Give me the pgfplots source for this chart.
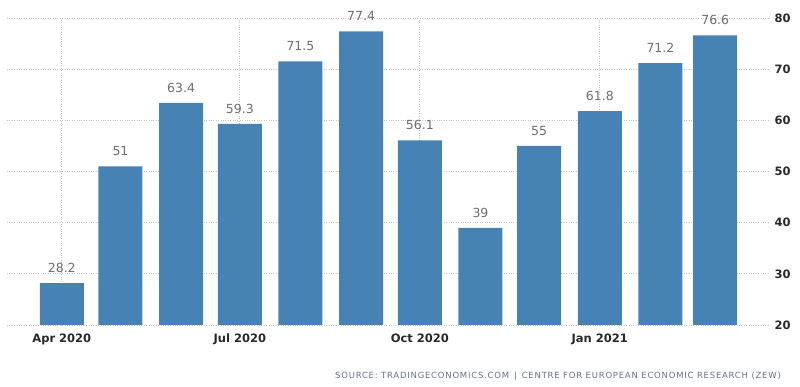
\documentclass[border=0pt]{standalone}
\usepackage{pgfplots}
\pgfplotsset{compat=1.18}
\usepackage{fontspec}
\setmainfont{DejaVu Sans}
\newfontfamily\srcfont[LetterSpace=9]{DejaVu Sans}
\definecolor{barblue}{RGB}{70,130,180}
\definecolor{gridgray}{RGB}{195,195,195}
\definecolor{ticktext}{RGB}{40,40,40}
\definecolor{labtext}{RGB}{110,110,110}
\definecolor{srctext}{RGB}{100,115,135}
\begin{document}
\begin{tikzpicture}[x=1pt,y=1pt]
\path[use as bounding box] (0,0) rectangle (800,387);
\begin{axis}[
  at={(7pt,62pt)}, anchor=south west,
  scale only axis, width=763pt, height=307pt,
  xmin=-28, xmax=362, ymin=20, ymax=80,
  ybar, bar shift=0pt, bar width=22.5,
  axis line style={draw=none}, major tick style={draw=none},
  xtick={0,91,183,275},
  xticklabels={Apr 2020,Jul 2020,Oct 2020,Jan 2021},
  ytick={20,30,40,50,60,70,80},
  yticklabel pos=right,
  xmajorgrids, ymajorgrids,
  grid style={gridgray, dotted, line width=0.7pt},
  tick label style={font=\fontsize{11.5}{14}\selectfont\bfseries, text=ticktext},
  /pgf/number format/assume math mode=true,
  yticklabel style={anchor=west, xshift=1pt},
  xticklabel style={yshift=-1pt},
  nodes near coords,
  nodes near coords style={font=\fontsize{12.5}{14}\selectfont, text=labtext, yshift=7pt},
  point meta=explicit symbolic,
  clip=false,
]
\addplot[fill=barblue, draw=none] table[meta=lab] {
x y lab
0 28.2 28.2
30 51 51
61 63.4 63.4
91 59.3 59.3
122 71.5 71.5
153 77.4 77.4
183 56.1 56.1
214 39 39
244 55 55
275 61.8 61.8
306 71.2 71.2
334 76.6 76.6
};
\end{axis}
\node[anchor=east, text=srctext, font=\srcfont\fontsize{8.5}{9}\selectfont, inner sep=0pt] at (781,11) {SOURCE: TRADINGECONOMICS.COM \,|\, CENTRE FOR EUROPEAN ECONOMIC RESEARCH (ZEW)};
\end{tikzpicture}
\end{document}
